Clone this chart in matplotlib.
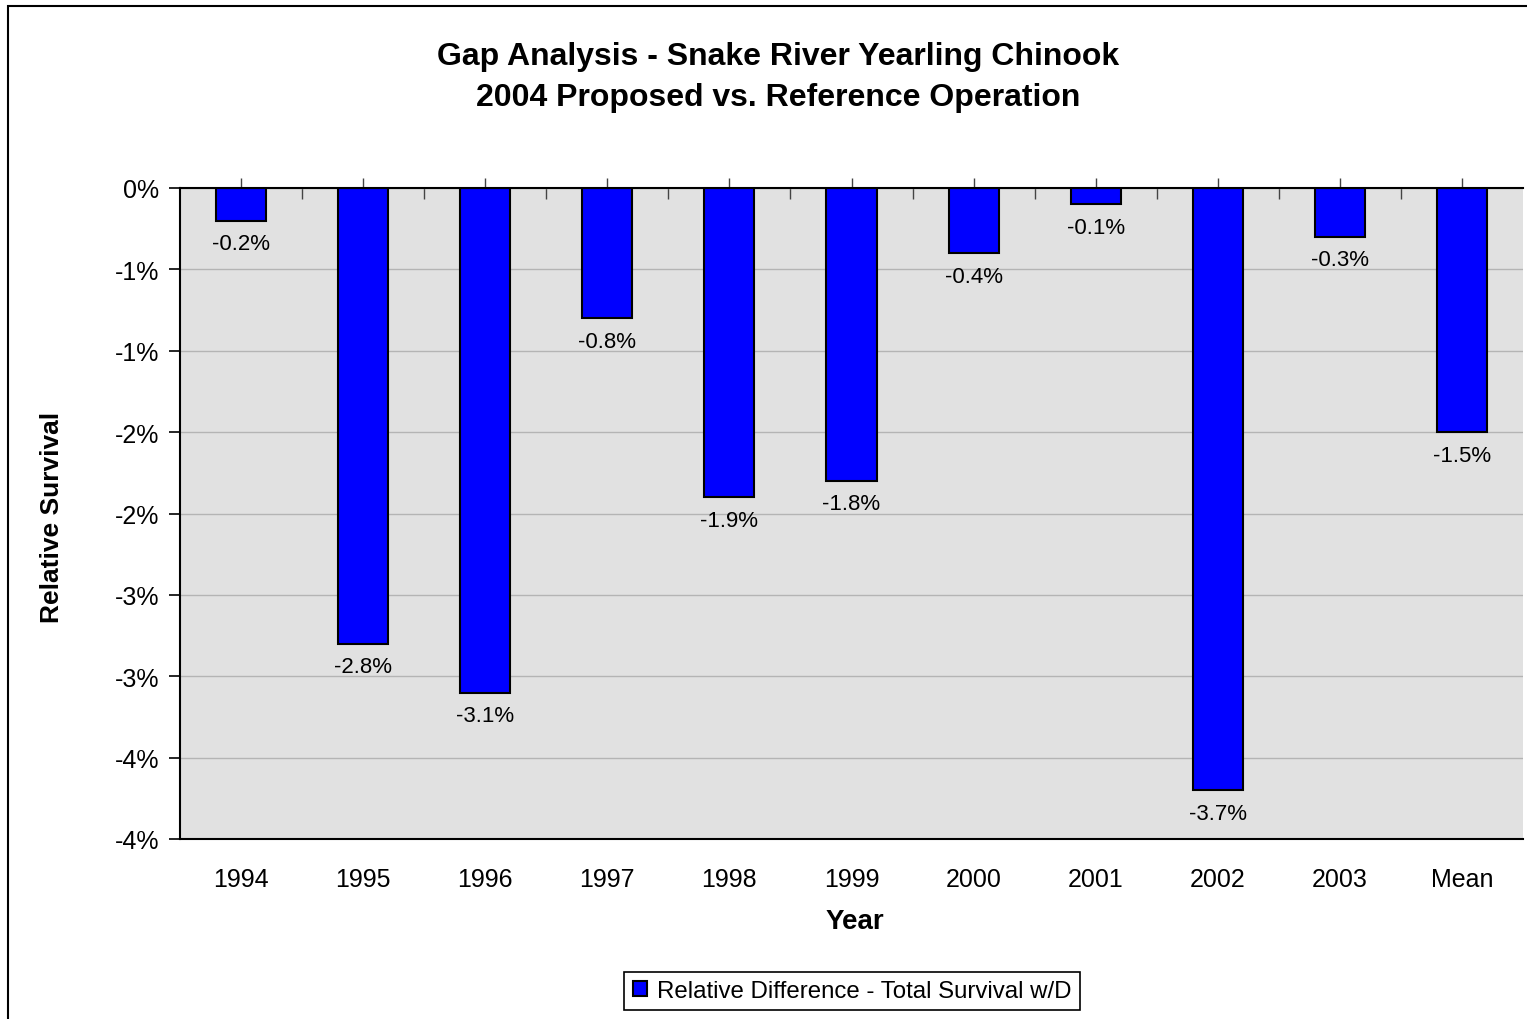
import numpy as np
import matplotlib
matplotlib.use('Agg')
from matplotlib import pyplot as plt
from matplotlib.patches import Rectangle
from matplotlib.ticker import FuncFormatter, MultipleLocator

plt.rcParams['font.family'] = ['Liberation Sans', 'DejaVu Sans']

lata = ['1994', '1995', '1996', '1997', '1998', '1999', '2000', '2001', '2002', '2003', 'Mean']
roznice = [-0.2, -2.8, -3.1, -0.8, -1.9, -1.8, -0.4, -0.1, -3.7, -0.3, -1.5]
etykiety = ['-0.2%', '-2.8%', '-3.1%', '-0.8%', '-1.9%', '-1.8%', '-0.4%', '-0.1%', '-3.7%', '-0.3%', '-1.5%']


def procent(v, pos):
    # zaokraglanie jak w Excelu (polowki od zera)
    n = int(np.floor(abs(v) + 0.5 + 1e-9))
    if n == 0:
        return '0%'
    return ('-' if v < 0 else '') + str(n) + '%'


fig = plt.figure(figsize=(15.27, 10.2), dpi=100)
ax = fig.add_axes([180 / 1527, 1 - 840 / 1020, 1343 / 1527, 651 / 1020])

x = np.arange(len(lata))
ax.set_facecolor('#e1e1e1')
ax.bar(x, roznice, width=0.41, color='#0000ff', edgecolor='black', linewidth=1.5,
       zorder=3, label='Relative Difference - Total Survival w/D')

for xi, v, t in zip(x, roznice, etykiety):
    ax.annotate(t, (xi, v), xytext=(0, -9), textcoords='offset points',
                ha='center', va='top', fontsize=16)

ax.set_xlim(-0.5, len(lata) - 0.5)
ax.set_ylim(-4.0, 0)
ax.yaxis.set_major_locator(MultipleLocator(0.5))
ax.yaxis.set_major_formatter(FuncFormatter(procent))
ax.grid(axis='y', color='#b4b4b4', linewidth=1, zorder=0)
ax.set_axisbelow(True)

ax.set_xticks(x)
ax.set_xticklabels(lata, fontsize=18)
ax.tick_params(axis='x', length=0, pad=20)
ax.tick_params(axis='y', labelsize=18, length=8, width=1.2, direction='out', pad=7)

ax.spines['right'].set_visible(False)
for s in ['left', 'bottom', 'top']:
    ax.spines[s].set_linewidth(1.5)
    ax.spines[s].set_zorder(4)

# kreski podzialki na osi zerowej
gora = ax.secondary_xaxis('top')
gora.set_xticks(x)
gora.set_xticks(np.arange(0.5, len(lata) - 1, 1.0), minor=True)
gora.tick_params(which='major', direction='inout', length=14, width=1, color='#444444', labeltop=False)
gora.tick_params(which='minor', direction='in', length=8, width=1, color='#444444')
gora.spines['top'].set_visible(False)

fig.text(778 / 1527, 1 - 57 / 1020, 'Gap Analysis - Snake River Yearling Chinook',
         ha='center', va='center', fontsize=23, fontweight='bold')
fig.text(778 / 1527, 1 - 98 / 1020, '2004 Proposed vs. Reference Operation',
         ha='center', va='center', fontsize=23, fontweight='bold')
fig.text(855 / 1527, 1 - 922 / 1020, 'Year', ha='center', va='center',
         fontsize=20, fontweight='bold')
fig.text(52 / 1527, 1 - 517 / 1020, 'Relative Survival', ha='center', va='center',
         rotation=90, fontsize=19, fontweight='bold')

leg = fig.legend(loc='center', bbox_to_anchor=(852 / 1527, 1 - 992 / 1020), fontsize=17.3,
                 frameon=True, fancybox=False, edgecolor='black', framealpha=1,
                 handlelength=0.6, handleheight=0.6, handletextpad=0.4, borderpad=0.35)
leg.get_frame().set_linewidth(1.2)

# ramka wykresu
fig.patches.append(Rectangle((8 / 1527, -0.1), 1.2, 1.1 - 7 / 1020, transform=fig.transFigure,
                             fill=False, edgecolor='black', linewidth=1.5))

fig.savefig('out.png', dpi=100)
